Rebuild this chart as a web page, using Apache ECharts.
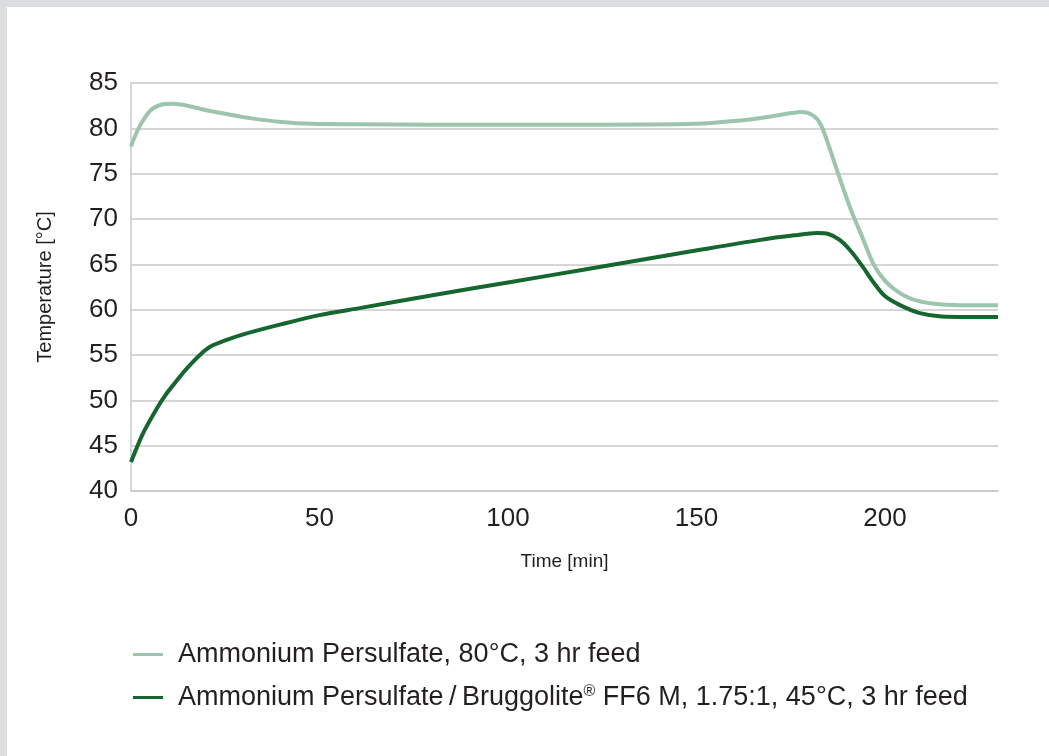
<!DOCTYPE html>
<html>
<head>
<meta charset="utf-8">
<script src="https://cdn.jsdelivr.net/npm/echarts@6/dist/echarts.min.js"></script>
<style>
  html, body { margin: 0; padding: 0; background: #dcdddf; width: 1049px; height: 756px; overflow: hidden; }
  #chart { position: absolute; left: 7px; top: 7px; width: 1042px; height: 749px; background: #ffffff; }
</style>
</head>
<body>
<div id="chart"></div>
<script>
const xTicks = [0, 50, 100, 150, 200];
const yTicks = [40, 45, 50, 55, 60, 65, 70, 75, 80, 85];

const lightName = 'Ammonium Persulfate, 80°C, 3 hr feed';
const lightTime = [0, 2, 5, 8, 11, 15, 20, 25, 32, 40, 48, 60, 80, 120, 150, 160, 168, 174, 178, 181, 183, 185, 188, 191, 194, 197, 200, 203, 207, 213, 220, 230];
const lightTemp = [78.0, 80.0, 81.9, 82.6, 82.7, 82.5, 82.0, 81.6, 81.1, 80.7, 80.5, 80.45, 80.4, 80.4, 80.5, 80.8, 81.2, 81.6, 81.8, 81.4, 80.4, 78.2, 74.5, 71.0, 68.0, 65.0, 63.2, 62.1, 61.2, 60.65, 60.5, 60.5];

const darkName = 'Ammonium Persulfate\u2009/\u2009Bruggolite® FF6 M, 1.75:1, 45°C, 3 hr feed';
const darkTime = [0, 3, 6, 9, 12, 15, 18, 21, 25, 30, 40, 50, 61, 80, 100, 120, 151, 167, 176, 182, 185, 188, 191, 194, 197, 200, 204, 209, 215, 222, 230];
const darkTemp = [43.2, 46.2, 48.5, 50.5, 52.1, 53.6, 54.9, 55.9, 56.6, 57.3, 58.4, 59.4, 60.2, 61.6, 63.0, 64.4, 66.6, 67.7, 68.2, 68.45, 68.35, 67.7, 66.45, 64.8, 63.0, 61.5, 60.5, 59.65, 59.25, 59.2, 59.2];

const lightColor = '#9dc5ad';
const darkColor = '#15662f';
const FONT = '"Liberation Sans", Arial, Helvetica, sans-serif';

const chart = echarts.init(document.getElementById('chart'));
chart.setOption({
  animation: false,
  grid: { left: 124, right: 51, top: 76, bottom: 265 },
  xAxis: {
    type: 'value', min: xTicks[0], max: 230, interval: 50,
    name: 'Time [min]', nameLocation: 'middle', nameGap: 61,
    nameTextStyle: { fontFamily: FONT, fontSize: 19, color: '#231f20' },
    axisLine: { show: true, lineStyle: { color: '#c8c8c8', width: 1.5 } },
    axisTick: { show: false },
    splitLine: { show: false },
    axisLabel: { fontFamily: FONT, fontSize: 26, color: '#231f20', margin: 15, showMaxLabel: false }
  },
  yAxis: {
    type: 'value', min: yTicks[0], max: yTicks[yTicks.length - 1], interval: 5,
    name: 'Temperature [°C]', nameLocation: 'middle', nameGap: 76,
    nameTextStyle: { fontFamily: FONT, fontSize: 20, color: '#231f20' },
    axisLine: { show: true, lineStyle: { color: '#c8c8c8', width: 1.5 } },
    axisTick: { show: false },
    splitLine: { show: true, lineStyle: { color: '#c8c8c8', width: 1.5 } },
    axisLabel: { fontFamily: FONT, fontSize: 26, color: '#231f20', margin: 13 }
  },
  legend: {
    orient: 'vertical', left: 121, top: 627,
    icon: 'rect', itemWidth: 30, itemHeight: 3, itemGap: 12,
    formatter: function (n) { return n.replace('®', '{sup|®}'); },
    textStyle: {
      fontFamily: FONT, fontSize: 27, color: '#231f20', lineHeight: 31, padding: [0, 0, 0, 10],
      rich: { sup: { fontFamily: FONT, fontSize: 16, color: '#231f20', padding: [0, 0, 11, 0] } }
    },
    data: [lightName, darkName]
  },
  series: [
    {
      name: lightName, type: 'line', smooth: 0.3, showSymbol: false,
      lineStyle: { color: lightColor, width: 4 }, itemStyle: { color: lightColor },
      data: lightTime.map((t, i) => [t, lightTemp[i]])
    },
    {
      name: darkName, type: 'line', smooth: 0.3, showSymbol: false,
      lineStyle: { color: darkColor, width: 4 }, itemStyle: { color: darkColor },
      data: darkTime.map((t, i) => [t, darkTemp[i]])
    }
  ]
});
</script>
</body>
</html>
